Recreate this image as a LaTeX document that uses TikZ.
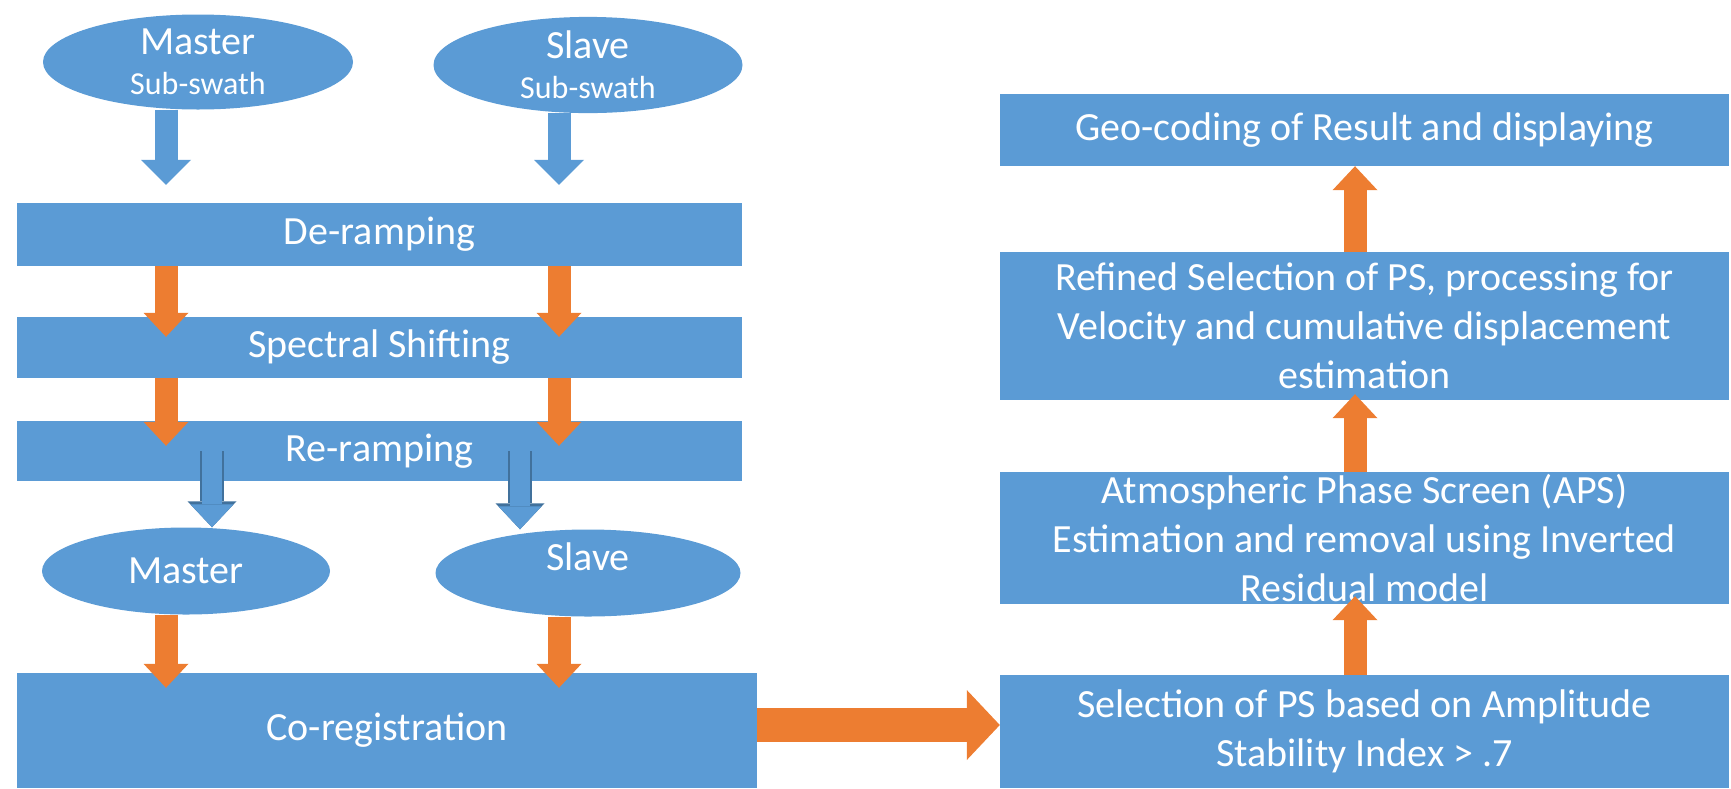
\documentclass[tikz,border=0pt]{standalone}
\usepackage{fontspec}
\setmainfont{Carlito}
\usetikzlibrary{shapes.geometric,arrows.meta,calc}

\definecolor{boxblue}{HTML}{5B9BD5}
\definecolor{edgeblue}{HTML}{41719C}
\definecolor{arrorange}{HTML}{ED7D31}

\tikzset{
  stepbox/.style={rectangle, fill=boxblue, text=white, inner sep=0pt, align=center, font=\fontsize{40}{49}\selectfont},
  swath/.style={ellipse, fill=boxblue, text=white, inner sep=0pt, align=center, font=\fontsize{40}{49}\selectfont},
  bluedown/.style={draw=boxblue, line width=23pt, -{Triangle[length=25pt,width=50pt,line width=0pt]}},
  blueout/.style={draw=boxblue, line width=20pt, -{Triangle[length=23pt,width=43pt,line width=0pt]},
    preaction={draw=edgeblue, line width=24pt, -{Triangle[length=26pt,width=49pt,line width=0pt]}}},
  orangearr/.style={draw=arrorange, line width=23pt, -{Triangle[length=24pt,width=45pt,line width=0pt]}},
  bigarrow/.style={draw=arrorange, line width=34pt, -{Triangle[length=33pt,width=70pt,line width=0pt]}},
}

\begin{document}
\begin{tikzpicture}[x=1pt,y=-1pt]
\useasboundingbox (0,0) rectangle (1731,788);

% left column
\node[swath, minimum width=310pt, minimum height=95pt] (msub) at (198,62) {Master\\[-9pt]{\fontsize{32}{36}\selectfont Sub-swath}};
\node[swath, minimum width=309pt, minimum height=90pt] (ssub) at (588,65) {Slave\\[-9pt]{\fontsize{32}{36}\selectfont Sub-swath}};

\node[stepbox, minimum width=725pt, minimum height=63pt] (deramp) at (379.5,234.5) {De-ramping};
\node[stepbox, minimum width=725pt, minimum height=61pt] (spec) at (379.5,347.5) {Spectral Shifting};
\node[stepbox, minimum width=725pt, minimum height=60pt] (reramp) at (379.5,451) {Re-ramping};

\node[swath, minimum width=288pt, minimum height=87pt] (mast) at (186,571) {Master};
\node[swath, minimum width=305pt, minimum height=87pt, text depth=32pt] (slav) at (588,573) {Slave};

\node[stepbox, minimum width=740pt, minimum height=115pt] (coreg) at (387,730.5) {Co-registration};

% right column
\node[stepbox, minimum width=729pt, minimum height=113pt] (sel) at (1364.5,731.5) {Selection of PS based on Amplitude\\Stability Index > .7};
\node[stepbox, minimum width=729pt, minimum height=132pt] (aps) at (1364.5,538) {Atmospheric Phase Screen (APS)\\Estimation and removal using Inverted\\Residual model};
\node[stepbox, minimum width=729pt, minimum height=148pt] (refsel) at (1364.5,326) {Refined Selection of PS, processing for\\Velocity and cumulative displacement\\estimation};
\node[stepbox, minimum width=729pt, minimum height=72pt] (geo) at (1364.5,130) {Geo-coding of Result and displaying};

\coordinate (mcol) at (166,0);
\coordinate (scol) at (559,0);
\coordinate (mcol2) at (212,0);
\coordinate (scol2) at (520,0);
\coordinate (rcol) at (1355,0);
\coordinate (hrow) at (0,725);

\draw[bluedown] (msub.south -| mcol) -- ($(deramp.north -| mcol)+(0,-18)$);
\draw[bluedown] (ssub.south -| scol) -- ($(deramp.north -| scol)+(0,-18)$);

\foreach \c in {mcol,scol}{
  \draw[orangearr] (deramp.south -| \c) -- ($(spec.north -| \c)+(0,20)$);
  \draw[orangearr] (spec.south -| \c) -- ($(reramp.north -| \c)+(0,25)$);
}

\draw[blueout] (reramp.center -| mcol2) -- (mast.north -| mcol2);
\draw[blueout] (reramp.center -| scol2) -- (slav.north -| scol2);

\draw[orangearr] (mast.south -| mcol) -- ($(coreg.north -| mcol)+(0,15)$);
\draw[orangearr] (slav.south -| scol) -- ($(coreg.north -| scol)+(0,15)$);

\draw[bigarrow] (coreg.east |- hrow) -- (sel.west |- hrow);

\draw[orangearr] (sel.north -| rcol) -- ($(aps.south -| rcol)+(0,-8)$);
\draw[orangearr] (aps.north -| rcol) -- ($(refsel.south -| rcol)+(0,-6)$);
\draw[orangearr] (refsel.north -| rcol) -- (geo.south -| rcol);

\end{tikzpicture}
\end{document}
